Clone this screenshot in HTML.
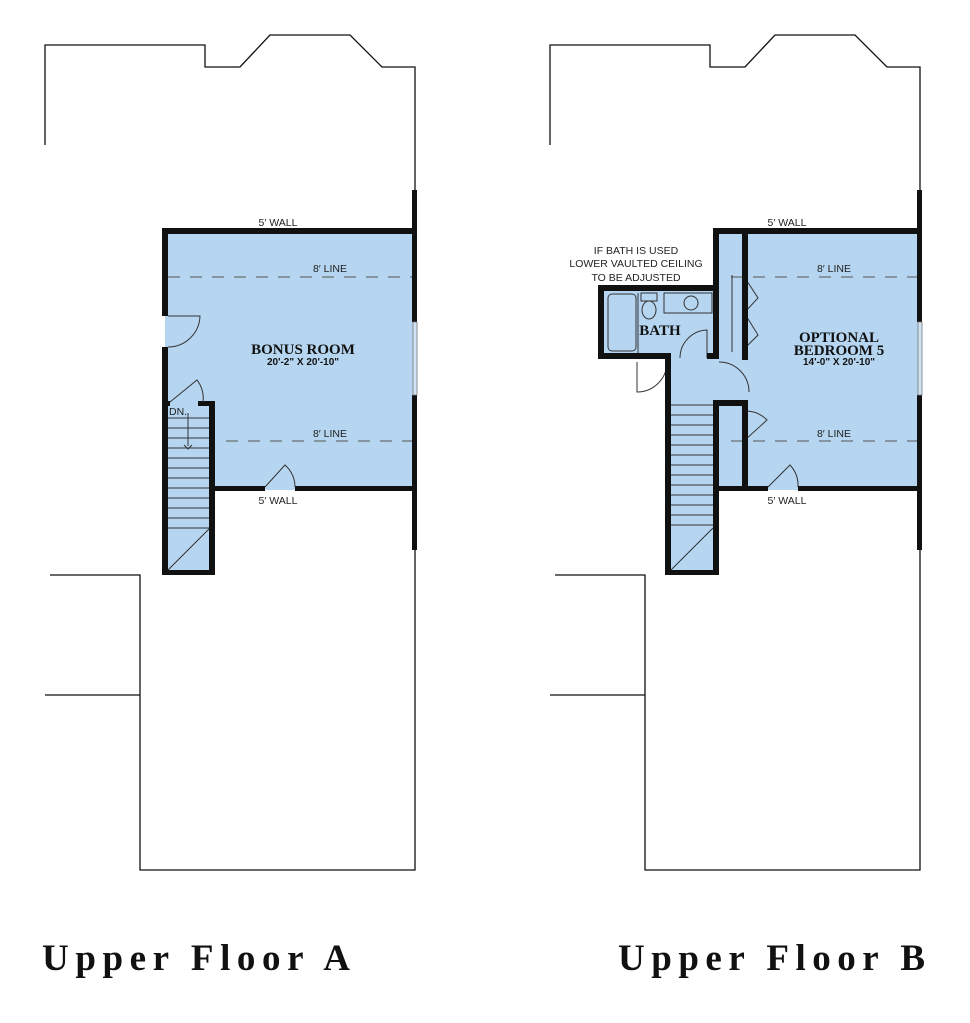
<!DOCTYPE html>
<html><head><meta charset="utf-8"><style>
html,body{margin:0;padding:0;background:#fff}
svg{display:block}
.t{font-family:"Liberation Sans",sans-serif;font-size:10.5px;fill:#222}
.rm{font-family:"Liberation Serif",serif;font-weight:bold;font-size:15px;fill:#111}
.dim{font-family:"Liberation Sans",sans-serif;font-weight:bold;font-size:10px;fill:#111}
.title{font-family:"Liberation Serif",serif;font-weight:bold;font-size:37px;fill:#111}
</style></head><body>
<svg width="970" height="1023" viewBox="0 0 970 1023" xmlns="http://www.w3.org/2000/svg">
<g fill="none" stroke="#111" stroke-width="1.3">
<polyline points="45,145 45,45 205,45 205,67 240,67 270,35 350,35 382,67 415,67 415,190"/>
<polyline points="415,550 415,870 140,870 140,575 50,575"/>
<line x1="45" y1="695" x2="140" y2="695"/>
<polyline points="550,145 550,45 710,45 710,67 745,67 775,35 855,35 887,67 920,67 920,190"/>
<polyline points="920,550 920,870 645,870 645,575 555,575"/>
<line x1="550" y1="695" x2="645" y2="695"/>
</g>

<g fill="#b5d5f0">
<rect x="165" y="230" width="250" height="260"/>
<rect x="165" y="403" width="48" height="170"/>
</g>
<g stroke="#333" stroke-width="1">
<line x1="168" y1="418" x2="210" y2="418"/><line x1="168" y1="428" x2="210" y2="428"/>
<line x1="168" y1="438" x2="210" y2="438"/><line x1="168" y1="448" x2="210" y2="448"/>
<line x1="168" y1="458" x2="210" y2="458"/><line x1="168" y1="468" x2="210" y2="468"/>
<line x1="168" y1="478" x2="210" y2="478"/><line x1="168" y1="488" x2="210" y2="488"/>
<line x1="168" y1="498" x2="210" y2="498"/><line x1="168" y1="508" x2="210" y2="508"/>
<line x1="168" y1="518" x2="210" y2="518"/><line x1="168" y1="528" x2="210" y2="528"/>
<line x1="168" y1="570" x2="210" y2="528"/>
<line x1="188" y1="413" x2="188" y2="446"/>
<polyline points="184,445 188,449 192,445" fill="none"/>
</g>
<text x="169" y="415" class="t" font-size="9">DN.</text>
<g stroke="#555" stroke-width="1" stroke-dasharray="12,10">
<line x1="168" y1="277" x2="412" y2="277"/>
<line x1="226" y1="441" x2="412" y2="441"/>
</g>
<g fill="#111">
<rect x="162" y="228" width="255" height="6"/>
<rect x="162" y="228" width="6" height="88"/>
<rect x="162" y="347" width="6" height="228"/>
<rect x="162" y="570" width="53" height="5"/>
<rect x="209" y="401" width="6" height="174"/>
<rect x="198" y="401" width="16" height="5"/>
<rect x="162" y="401" width="8" height="5"/>
<rect x="209" y="486" width="56" height="5"/>
<rect x="295" y="486" width="122" height="5"/>
<rect x="412" y="190" width="5" height="132"/>
<rect x="412" y="395" width="5" height="155"/>
</g>
<rect x="413" y="322" width="4" height="73" fill="#cfe3f4" stroke="#777" stroke-width="0.8"/>
<g fill="none" stroke="#333" stroke-width="1">
<path d="M168,347 A32,32 0 0 0 200,316 L168,316"/>
<path d="M170,402 L197,380 A30,30 0 0 1 203,402"/>
<path d="M265,487 L285,465 A30,30 0 0 1 295,487"/>
</g>
<text x="278" y="226" class="t" text-anchor="middle">5′ WALL</text>
<text x="278" y="504" class="t" text-anchor="middle">5′ WALL</text>
<text x="330" y="272" class="t" text-anchor="middle">8′ LINE</text>
<text x="330" y="437" class="t" text-anchor="middle">8′ LINE</text>
<text x="303" y="354" class="rm" text-anchor="middle">BONUS ROOM</text>
<text x="303" y="365" class="dim" text-anchor="middle">20'-2" X 20'-10"</text>

<g fill="#b5d5f0">
<rect x="716" y="230" width="204" height="260"/>
<rect x="601" y="288" width="115" height="70"/>
<rect x="668" y="355" width="50" height="218"/>
<rect x="716" y="358" width="30" height="45"/>
</g>
<g stroke="#333" stroke-width="1">
<line x1="671" y1="405" x2="713" y2="405"/><line x1="671" y1="415" x2="713" y2="415"/>
<line x1="671" y1="425" x2="713" y2="425"/><line x1="671" y1="435" x2="713" y2="435"/>
<line x1="671" y1="445" x2="713" y2="445"/><line x1="671" y1="455" x2="713" y2="455"/>
<line x1="671" y1="465" x2="713" y2="465"/><line x1="671" y1="475" x2="713" y2="475"/>
<line x1="671" y1="485" x2="713" y2="485"/><line x1="671" y1="495" x2="713" y2="495"/>
<line x1="671" y1="505" x2="713" y2="505"/><line x1="671" y1="515" x2="713" y2="515"/>
<line x1="671" y1="525" x2="713" y2="525"/>
<line x1="671" y1="570" x2="713" y2="528"/>
</g>
<g stroke="#555" stroke-width="1" stroke-dasharray="12,10">
<line x1="731" y1="277" x2="917" y2="277"/>
<line x1="731" y1="441" x2="917" y2="441"/>
</g>
<g fill="none" stroke="#333" stroke-width="1">
<rect x="608" y="294" width="28" height="57" rx="4"/>
<rect x="641" y="293" width="16" height="8"/>
<ellipse cx="649" cy="310" rx="7" ry="9"/>
<rect x="664" y="293" width="48" height="20"/>
<circle cx="691" cy="303" r="7"/>
<line x1="638" y1="293" x2="638" y2="356"/>
<path d="M680,358 A28,28 0 0 1 707,330 L707,358"/>
<path d="M667,362 A30,30 0 0 1 637,392 L637,362"/>
<path d="M719,362 A30,30 0 0 1 749,392 L749,392"/>
<line x1="732" y1="275" x2="732" y2="352"/>
<polyline points="745,278 758,298 745,312"/>
<polyline points="745,314 758,335 745,348"/>
<path d="M745,411 A30,30 0 0 1 767,420 L745,440"/>
<path d="M768,487 L790,465 A30,30 0 0 1 798,487"/>
</g>
<g fill="#111">
<rect x="713" y="228" width="207" height="6"/>
<rect x="713" y="228" width="6" height="130"/>
<rect x="742" y="228" width="6" height="132"/>
<rect x="742" y="403" width="6" height="87"/>
<rect x="713" y="400" width="35" height="6"/>
<rect x="713" y="403" width="6" height="172"/>
<rect x="665" y="355" width="6" height="220"/>
<rect x="665" y="570" width="53" height="5"/>
<rect x="598" y="285" width="121" height="6"/>
<rect x="598" y="285" width="6" height="73"/>
<rect x="598" y="353" width="73" height="6"/>
<rect x="707" y="353" width="12" height="6"/>
<rect x="713" y="486" width="55" height="5"/>
<rect x="798" y="486" width="122" height="5"/>
<rect x="917" y="190" width="5" height="132"/>
<rect x="917" y="395" width="5" height="155"/>
</g>
<rect x="918" y="322" width="4" height="73" fill="#cfe3f4" stroke="#777" stroke-width="0.8"/>
<text x="787" y="226" class="t" text-anchor="middle">5′ WALL</text>
<text x="787" y="504" class="t" text-anchor="middle">5′ WALL</text>
<text x="834" y="272" class="t" text-anchor="middle">8′ LINE</text>
<text x="834" y="437" class="t" text-anchor="middle">8′ LINE</text>
<text x="636" y="254" class="t" text-anchor="middle">IF BATH IS USED</text>
<text x="636" y="267" class="t" text-anchor="middle">LOWER VAULTED CEILING</text>
<text x="636" y="281" class="t" text-anchor="middle">TO BE ADJUSTED</text>
<text x="660" y="335" class="rm" text-anchor="middle" font-size="14">BATH</text>
<text x="839" y="342" class="rm" text-anchor="middle">OPTIONAL</text>
<text x="839" y="355" class="rm" text-anchor="middle">BEDROOM 5</text>
<text x="839" y="365" class="dim" text-anchor="middle">14'-0" X 20'-10"</text>

<text x="42" y="970" class="title" textLength="308" lengthAdjust="spacing">Upper Floor A</text>
<text x="618" y="970" class="title" textLength="307" lengthAdjust="spacing">Upper Floor B</text>
</svg>
</body></html>
